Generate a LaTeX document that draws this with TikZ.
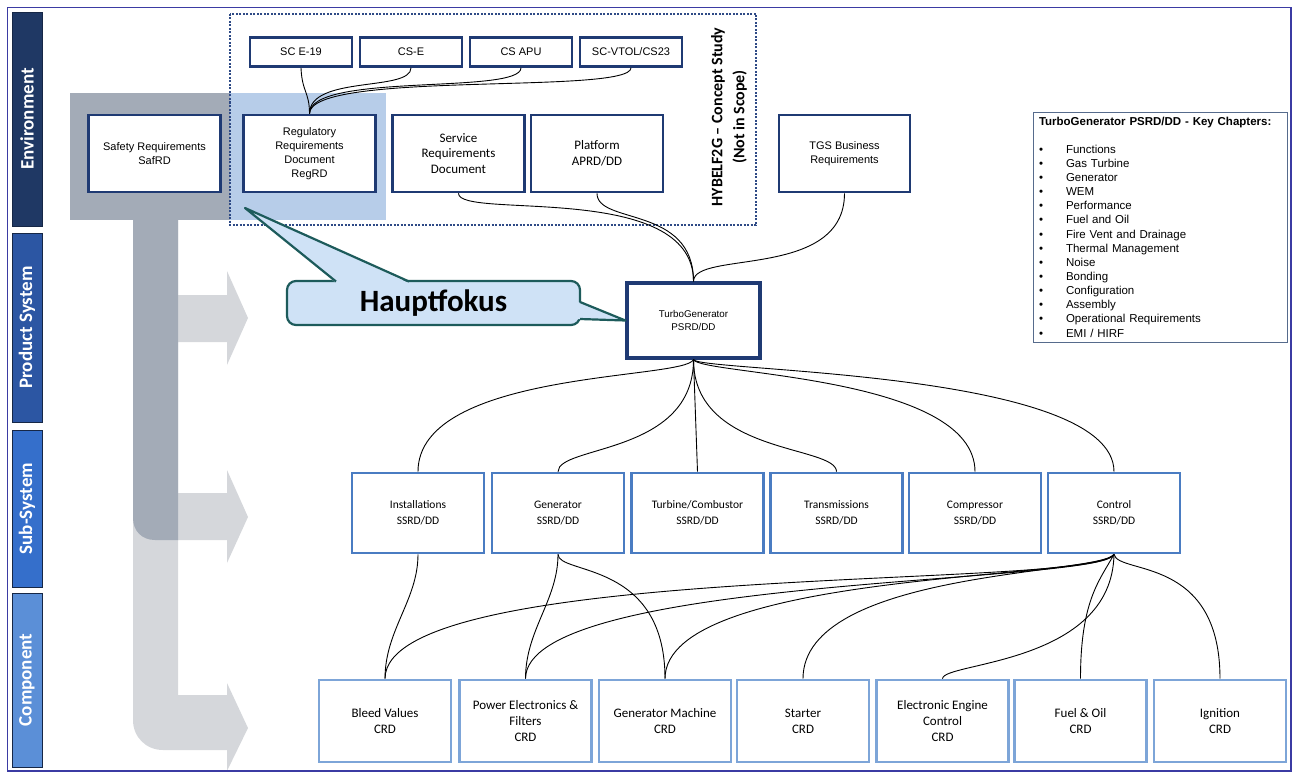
\documentclass[tikz,border=0pt]{standalone}
\usepackage{fontspec}
\setmainfont{Liberation Sans}
\newfontfamily\calfont{Carlito}
\definecolor{navyline}{HTML}{1F3A73}
\definecolor{subline}{HTML}{4A7CC2}
\definecolor{compline}{HTML}{7DA5D8}
\definecolor{laneenv}{HTML}{1F3864}
\definecolor{laneprod}{HTML}{2C56A3}
\definecolor{lanesub}{HTML}{356FCB}
\definecolor{lanecomp}{HTML}{5B8FD7}
\definecolor{arrowdark}{HTML}{A3ABB7}
\definecolor{arrowlight}{HTML}{D5D7DB}
\definecolor{focusblue}{HTML}{B7CDE9}
\definecolor{calloutfill}{HTML}{CFE2F6}
\definecolor{calloutline}{HTML}{1D5B5B}
\definecolor{keyline}{HTML}{566B8C}
\definecolor{scopeline}{HTML}{2E4A86}
\definecolor{framecol}{HTML}{3B3BA3}
\tikzset{
	lane/.style={rotate=90,draw=laneenv!70!black,line width=0.6pt,minimum height=30pt,inner sep=0pt,text=white,font=\calfont\bfseries\fontsize{19}{19}\selectfont},
	envbox/.style={draw=navyline,line width=2.6pt,fill=white,minimum width=132pt,minimum height=77pt,align=center,inner sep=2pt,font=\fontsize{11}{14}\selectfont},
	scbox/.style={draw=navyline,line width=2.6pt,fill=white,minimum width=102pt,minimum height=29pt,inner sep=1pt,font=\fontsize{11}{13}\selectfont},
	subbox/.style={draw=subline,line width=2.6pt,fill=white,minimum width=132pt,minimum height=80pt,align=center,inner sep=2pt,font=\calfont\fontsize{11.5}{16}\selectfont},
	compbox/.style={draw=compline,line width=2.6pt,fill=white,minimum width=132pt,minimum height=82pt,align=center,inner sep=2pt,font=\calfont\fontsize{13}{16}\selectfont},
	link/.style={draw=black,line width=0.9pt},
	scopebox/.style={draw=scopeline,line width=1.5pt,dash pattern=on 2pt off 1.5pt},
	focusbox/.style={draw=calloutline,line width=2.2pt,fill=calloutfill,rounded corners=9pt,minimum width=293pt,minimum height=44pt,font=\calfont\bfseries\fontsize{31}{31}\selectfont},
	keybox/.style={draw=keyline,line width=1pt,fill=white,minimum width=254pt,minimum height=230pt,text width=242pt,align=left,inner xsep=6pt,font=\fontsize{11.5}{14.15}\selectfont}
}
\begin{document}
\begin{tikzpicture}[x=1pt,y=-1pt]
	\useasboundingbox (0,0) rectangle (1294,776);
	\fill[arrowlight] (133,215) -- (133,720) .. controls (133,737) and (146,750) .. (163,750) -- (227,750) -- (227,771) -- (248,728) -- (227,683) -- (227,695) -- (178,695) -- (178,540) -- (227,540) -- (227,563) -- (248,517) -- (227,470) -- (227,493) -- (178,493) -- (178,342) -- (227,342) -- (227,365) -- (248,318) -- (227,271) -- (227,295) -- (178,295) -- (178,215) -- cycle;
	\fill[arrowdark] (70,93) rectangle (230,220);
	\fill[arrowdark] (133,215) -- (133,518) .. controls (133,531) and (142,540) .. (155,540) -- (178,540) -- (178,215) -- cycle;
	\fill[focusblue] (230,93) rectangle (386,220);
	\draw[scopebox] (230,14) rectangle (756,225);
	\node[rotate=90,align=center,font=\calfont\bfseries\fontsize{16}{22}\selectfont] (hybelf) at (729,117) {HYBELF2G – Concept Study\\(Not in Scope)};

	\node[lane,fill=laneenv,minimum width=214pt] (envlane) at (27,119) {Environment};
	\node[lane,fill=laneprod,minimum width=189pt] (prodlane) at (27,327.5) {Product System};
	\node[lane,fill=lanesub,minimum width=157pt] (sublane) at (27,508.5) {Sub-System};
	\node[lane,fill=lanecomp,minimum width=174pt] (complane) at (27,680) {Component};

	\node[scbox] (scE19) at (301,52) {SC E-19};
	\node[scbox] (csE) at (411,52) {CS-E};
	\node[scbox] (csAPU) at (521,52) {CS APU};
	\node[scbox] (scVTOL) at (631,52) {SC-VTOL/CS23};
	\node[envbox] (safety) at (154.5,153.5) {Safety Requirements\\SafRD};
	\node[envbox] (reg) at (309.5,153.5) {Regulatory\\Requirements\\Document\\RegRD};
	\node[envbox,font=\calfont\fontsize{13}{15.5}\selectfont] (service) at (458.5,153.5) {Service\\Requirements\\Document};
	\node[envbox,font=\calfont\fontsize{13}{16}\selectfont] (platform) at (597,153.5) {Platform\\APRD/DD};
	\node[envbox,minimum width=131pt] (tgs) at (844.5,153.5) {TGS Business\\Requirements};
	\node[envbox,line width=3.2pt,minimum width=133pt,minimum height=75pt,font=\fontsize{9.8}{13.5}\selectfont] (turbo) at (693.5,320.5) {TurboGenerator\\PSRD/DD};

	\node[keybox] (keys) at (1160,227) {\textbf{TurboGenerator PSRD/DD - Key Chapters:}\\[13.8pt]
		\makebox[27pt][l]{\textbullet}Functions\\
		\makebox[27pt][l]{\textbullet}Gas Turbine\\
		\makebox[27pt][l]{\textbullet}Generator\\
		\makebox[27pt][l]{\textbullet}WEM\\
		\makebox[27pt][l]{\textbullet}Performance\\
		\makebox[27pt][l]{\textbullet}Fuel and Oil\\
		\makebox[27pt][l]{\textbullet}Fire Vent and Drainage\\
		\makebox[27pt][l]{\textbullet}Thermal Management\\
		\makebox[27pt][l]{\textbullet}Noise\\
		\makebox[27pt][l]{\textbullet}Bonding\\
		\makebox[27pt][l]{\textbullet}Configuration\\
		\makebox[27pt][l]{\textbullet}Assembly\\
		\makebox[27pt][l]{\textbullet}Operational Requirements\\
		\makebox[27pt][l]{\textbullet}EMI / HIRF};

	\node[subbox] (inst) at (418,513) {Installations\\SSRD/DD};
	\node[subbox] (gen) at (558,513) {Generator\\SSRD/DD};
	\node[subbox] (turb) at (697.5,513) {Turbine/Combustor\\SSRD/DD};
	\node[subbox] (trans) at (836.5,513) {Transmissions\\SSRD/DD};
	\node[subbox] (compr) at (975,513) {Compressor\\SSRD/DD};
	\node[subbox] (ctrl) at (1114,513) {Control\\SSRD/DD};

	\node[compbox] (bleed) at (385,721) {Bleed Values\\CRD};
	\node[compbox] (power) at (525.5,721) {Power Electronics \&\\Filters\\CRD};
	\node[compbox] (genmach) at (665,721) {Generator Machine\\CRD};
	\node[compbox] (starter) at (803,721) {Starter\\CRD};
	\node[compbox] (eec) at (942.5,721) {Electronic Engine\\Control\\CRD};
	\node[compbox] (fuel) at (1080.5,721) {Fuel \& Oil\\CRD};
	\node[compbox] (ign) at (1220,721) {Ignition\\CRD};

	\draw[link] (scE19.south) .. controls (302,92) and (309.5,92) .. (reg.north);
	\draw[link] (csE.south) .. controls (411,92) and (309.5,75) .. (reg.north);
	\draw[link] (csAPU.south) .. controls (521,95) and (309.5,72) .. (reg.north);
	\draw[link] (scVTOL.south) .. controls (631,95) and (309.5,70) .. (reg.north);
	\draw[link] (service.south) .. controls (458.5,220) and (693.5,180) .. (turbo.north);
	\draw[link] (platform.south) .. controls (597,225) and (693.5,205) .. (turbo.north);
	\draw[link] (tgs.south) .. controls (844.5,280) and (693.5,250) .. (turbo.north);

	\draw[link] (turbo.south) .. controls (685,380) and (418,370) .. (inst.north);
	\draw[link] (turbo.south) .. controls (693.5,455) and (558,445) .. (gen.north);
	\draw[link] (turbo.south) -- (turb.north);
	\draw[link] (turbo.south) .. controls (693.5,455) and (836.5,445) .. (trans.north);
	\draw[link] (turbo.south) .. controls (700,375) and (975,375) .. (compr.north);
	\draw[link] (turbo.south) .. controls (700,372) and (1114,370) .. (ctrl.north);

	\draw[link] (inst.south) .. controls (418,600) and (385,630) .. (bleed.north);
	\draw[link] (gen.south) .. controls (558,600) and (525.5,630) .. (power.north);
	\draw[link] (gen.south) .. controls (558,575) and (665,560) .. (genmach.north);
	\draw[link] (ctrl.south) .. controls (1100,590) and (385,560) .. (bleed.north);
	\draw[link] (ctrl.south) .. controls (1100,585) and (525.5,575) .. (power.north);
	\draw[link] (ctrl.south) .. controls (1100,580) and (665,570) .. (genmach.north);
	\draw[link] (ctrl.south) .. controls (1100,575) and (803,570) .. (starter.north);
	\draw[link] (ctrl.south) .. controls (1112,665) and (942.5,662) .. (eec.north);
	\draw[link] (ctrl.south) .. controls (1100,580) and (1080.5,600) .. (fuel.north);
	\draw[link] (ctrl.south) .. controls (1118,575) and (1220,555) .. (ign.north);

	\node[focusbox] (hf) at (433.5,303) {Hauptfokus};
	\coordinate (hftip) at (245,208);
	\fill[calloutfill] (336,283) -- (hftip) -- (409,283) -- cycle;
	\draw[calloutline,line width=2.2pt,line join=round] (336,281.5) -- (hftip) -- (409,281.5);
	\fill[calloutfill] (578,302) -- (turbo.west) -- (578,319) -- cycle;
	\draw[calloutline,line width=2.2pt,line join=round] (580,302) -- (turbo.west) -- (580,319);

	\draw[framecol,line width=1.5pt] (7.5,7.5) rectangle (1291,771);
\end{tikzpicture}
\end{document}
